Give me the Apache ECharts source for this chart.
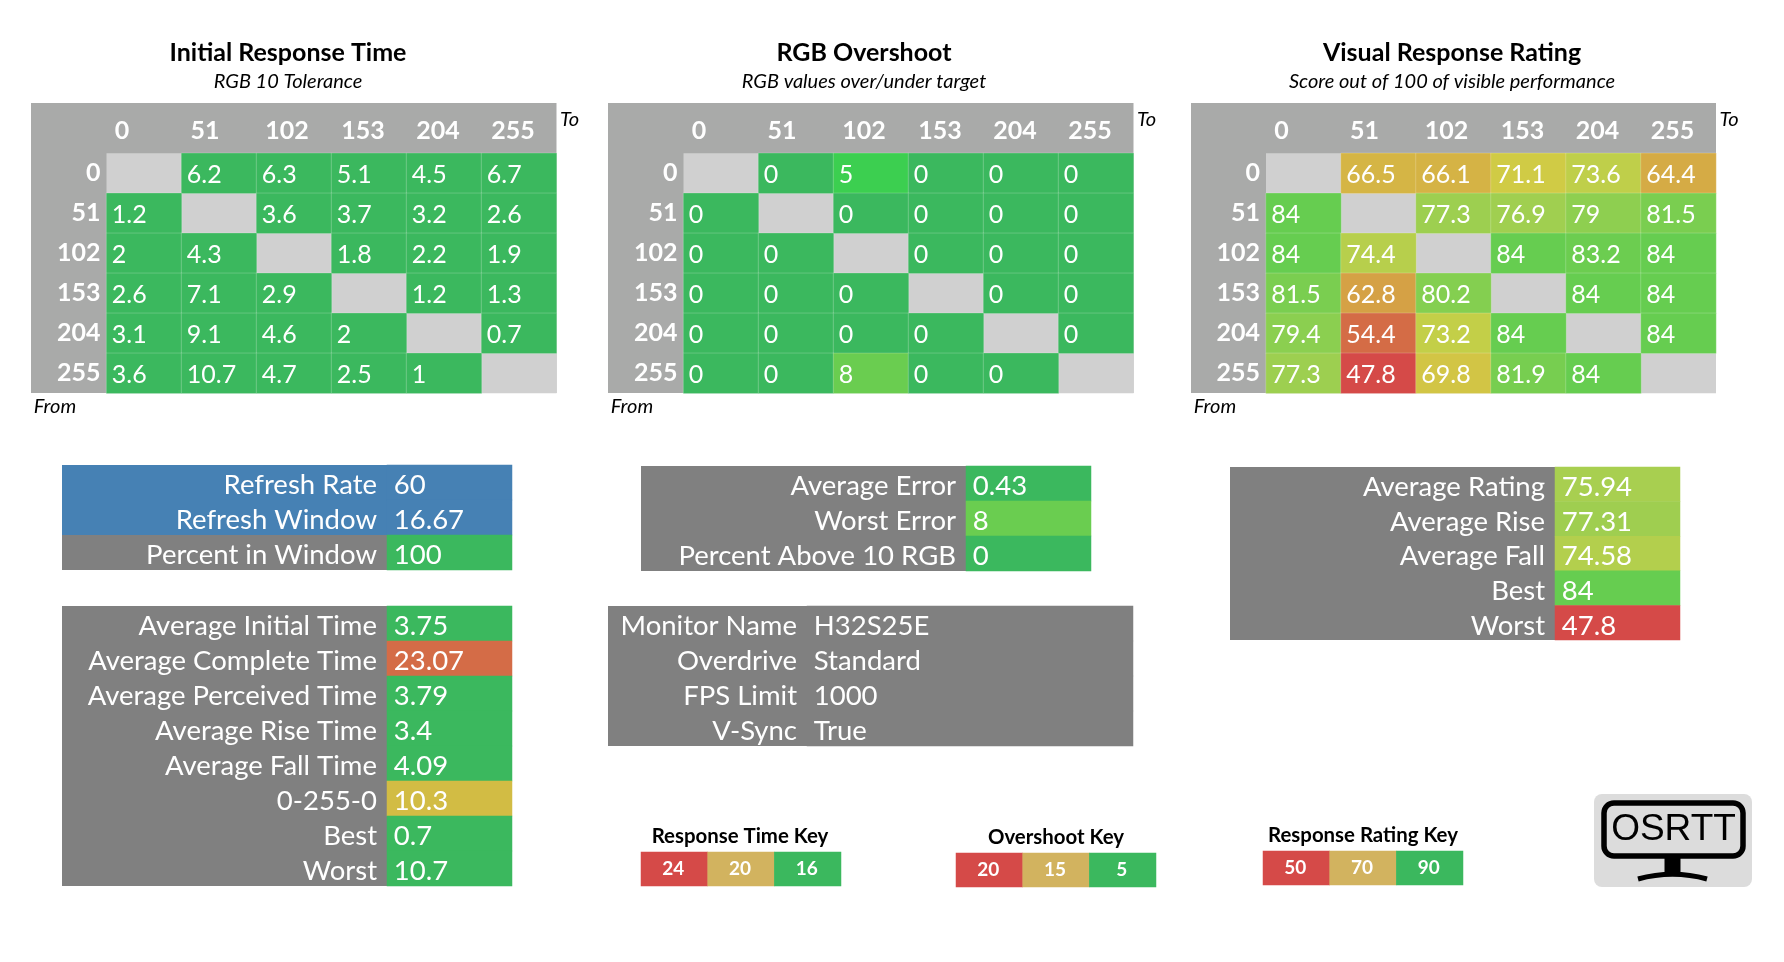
<!DOCTYPE html>
<html>
<head>
<meta charset="utf-8">
<style>
html, body { margin: 0; padding: 0; background: #fff; }
#main { width: 1784px; height: 962px; }
</style>
<script src="https://cdn.jsdelivr.net/npm/echarts@6/dist/echarts.min.js"></script>
</head>
<body>
<div id="main"></div>
<script>
var levels = ['0', '51', '102', '153', '204', '255'];

// null = the diagonal, no transition there
var initialTimes = [
    [null, 6.2, 6.3, 5.1, 4.5, 6.7],
    [1.2, null, 3.6, 3.7, 3.2, 2.6],
    [2, 4.3, null, 1.8, 2.2, 1.9],
    [2.6, 7.1, 2.9, null, 1.2, 1.3],
    [3.1, 9.1, 4.6, 2, null, 0.7],
    [3.6, 10.7, 4.7, 2.5, 1, null]
];
var overshoot = [
    [null, 0, 5, 0, 0, 0],
    [0, null, 0, 0, 0, 0],
    [0, 0, null, 0, 0, 0],
    [0, 0, 0, null, 0, 0],
    [0, 0, 0, 0, null, 0],
    [0, 0, 8, 0, 0, null]
];
var ratings = [
    [null, 66.5, 66.1, 71.1, 73.6, 64.4],
    [84, null, 77.3, 76.9, 79, 81.5],
    [84, 74.4, null, 84, 83.2, 84],
    [81.5, 62.8, 80.2, null, 84, 84],
    [79.4, 54.4, 73.2, 84, null, 84],
    [77.3, 47.8, 69.8, 81.9, 84, null]
];

var refreshNames = ['Refresh Rate', 'Refresh Window', 'Percent in Window'];
var refreshValues = ['60', '16.67', '100'];
var timeNames = ['Average Initial Time', 'Average Complete Time', 'Average Perceived Time', 'Average Rise Time', 'Average Fall Time', '0-255-0', 'Best', 'Worst'];
var timeValues = ['3.75', '23.07', '3.79', '3.4', '4.09', '10.3', '0.7', '10.7'];
var errorNames = ['Average Error', 'Worst Error', 'Percent Above 10 RGB'];
var errorValues = ['0.43', '8', '0'];
var monitorNames = ['Monitor Name', 'Overdrive', 'FPS Limit', 'V-Sync'];
var monitorValues = ['H32S25E', 'Standard', '1000', 'True'];
var ratingNames = ['Average Rating', 'Average Rise', 'Average Fall', 'Best', 'Worst'];
var ratingValues = ['75.94', '77.31', '74.58', '84', '47.8'];

var timeKey = ['24', '20', '16'];
var overshootKey = ['20', '15', '5'];
var ratingKey = ['50', '70', '90'];

var GREEN = '#3bb85e', RED = '#d54a48', SAND = '#d2b35f', GREY = '#808080', HEAD = '#a9aaa9', BLUE = '#4681b4';

var refreshColors = [BLUE, BLUE, GREEN];
var timeColors = [GREEN, '#d46c47', GREEN, GREEN, GREEN, '#d2bc44', GREEN, GREEN];
var errorColors = [GREEN, '#6acd50', GREEN];
var ratingColors = ['#a8cf50', '#9fce50', '#b3cf4d', '#66cd50', RED];
var keyColors = [RED, SAND, GREEN];

// header text sits left of the column centre in the original sheet
var headerPad = [44, 28, 14, 12, 12, 12];

var font = 'Lato';
var grids = [], xAxes = [], yAxes = [], series = [], titles = [], graphics = [], visualMaps = [];

function addAxes(box, xData, yData) {
    var n = grids.length;
    grids.push({ left: box.left, top: box.top, width: box.width, height: box.height, show: !!box.bg, backgroundColor: box.bg, borderWidth: 0, containLabel: false, z: 1 });
    xAxes.push({
        gridIndex: n, type: 'category', position: 'top', data: xData,
        axisLine: { show: false }, axisTick: { show: false }, splitLine: { show: false },
        axisLabel: box.xLabel || { show: false }
    });
    yAxes.push({
        gridIndex: n, type: 'category', inverse: true, data: yData,
        axisLine: { show: false }, axisTick: { show: false }, splitLine: { show: false },
        axisLabel: box.yLabel || { show: false }
    });
    return n;
}

function title(text, x, y, size, bold, italic) {
    titles.push({
        text: text, left: x, top: y, textAlign: 'center', textVerticalAlign: 'middle', padding: 0,
        textStyle: { fontFamily: font, fontSize: size, fontWeight: bold ? 'bold' : 'normal', fontStyle: italic ? 'italic' : 'normal', color: '#000' }
    });
}

function backing(x, y, w, h, color) {
    graphics.push({ type: 'rect', z: -1, shape: { x: x, y: y, width: w, height: h }, style: { fill: color } });
}

function matrix(values, left, labelWidth, cellW, map, heading, sub, hx) {
    var top = 153.3, cellH = 40;
    backing(left, 103, labelWidth + cellW * 6, 290, HEAD);
    var n = addAxes({
        left: left + labelWidth, top: top, width: cellW * 6, height: cellH * 6, bg: '#d0d0d0',
        xLabel: { color: '#fff', fontFamily: font, fontWeight: 'bold', fontSize: 25, margin: 10, interval: 0 },
        yLabel: { color: '#fff', fontFamily: font, fontWeight: 'bold', fontSize: 25, margin: 6, interval: 0 }
    }, levels.map(function (l, i) {
        return { value: l, textStyle: { padding: [0, headerPad[i], 0, 0] } };
    }), levels);
    var data = [];
    values.forEach(function (row, r) {
        row.forEach(function (v, c) {
            if (v !== null) data.push([c, r, v]);
        });
    });
    series.push({
        type: 'heatmap', xAxisIndex: n, yAxisIndex: n, data: data,
        itemStyle: { borderColor: 'rgba(255,255,255,0.2)', borderWidth: 1 },
        label: { show: true, position: 'insideLeft', distance: 6, offset: [0, 2], color: '#fff', fontFamily: font, fontSize: 25,
            formatter: function (p) { return p.value[2]; } },
        emphasis: { disabled: true }
    });
    map.seriesIndex = series.length - 1;
    map.show = false;
    visualMaps.push(map);
    title(heading, hx, 53, 25, true, false);
    title(sub, hx, 82, 20, false, true);
    title('To', left + labelWidth + cellW * 6 + 13, 120, 20, false, true);
    title('From', left + 24, 406.7, 20, false, true);
}

// grey label column plus one column of value cells
function table(names, values, colors, left, divider, right, top, rowH, labelGap, height) {
    var h = height || rowH * names.length;
    backing(left, top, divider - left, h, GREY);
    var n = addAxes({
        left: divider, top: top, width: right - divider, height: h,
        // a short line box hung from the row centre drops the text a few px
        yLabel: { color: '#fff', fontFamily: font, fontSize: 27.5, margin: labelGap, interval: 0, verticalAlign: 'top', lineHeight: 6 }
    }, ['v'], names);
    series.push({
        type: 'heatmap', xAxisIndex: n, yAxisIndex: n,
        data: values.map(function (v, i) {
            return { value: [0, i, 0], itemStyle: { color: colors[i] } };
        }),
        label: { show: true, position: 'insideLeft', distance: 7, offset: [0, 3], color: '#fff', fontFamily: font, fontSize: 27.5,
            formatter: function (p) { return values[p.dataIndex]; } },
        emphasis: { disabled: true }
    });
}

function keyRow(heading, labels, left, top, tx, ty) {
    var n = addAxes({ left: left, top: top, width: 200, height: 34 }, labels, ['k']);
    series.push({
        type: 'heatmap', xAxisIndex: n, yAxisIndex: n,
        data: labels.map(function (v, i) {
            return { value: [i, 0, 0], itemStyle: { color: keyColors[i] } };
        }),
        label: { show: true, offset: [-1, 0], color: '#fff', fontFamily: font, fontWeight: 'bold', fontSize: 19,
            formatter: function (p) { return labels[p.dataIndex]; } },
        emphasis: { disabled: true }
    });
    title(heading, tx, ty, 20.4, true, false);
}

matrix(initialTimes, 31, 75.5, 75,
    { type: 'continuous', min: 0, max: 24, inRange: { color: [GREEN, GREEN] } },
    'Initial Response Time', 'RGB 10 Tolerance', 288);
matrix(overshoot, 608, 75.5, 75,
    { type: 'piecewise', pieces: [{ value: 0, color: GREEN }, { value: 5, color: '#3ccf50' }, { value: 8, color: '#6acd50' }] },
    'RGB Overshoot', 'RGB values over/under target', 864);
matrix(ratings, 1191, 75, 75,
    { type: 'continuous', min: 47.8, max: 84, inRange: { color: [RED, '#d55c47', '#d47546', '#d48f45', '#d5a845', '#d5bc45', '#cfcf45', '#a8cf50', '#86cf50', '#66cd50'] } },
    'Visual Response Rating', 'Score out of 100 of visible performance', 1452);

table(refreshNames, refreshValues, refreshColors, 62, 387, 512, 465, 35, 10);
backing(62, 465, 325, 70, BLUE);
table(timeNames, timeValues, timeColors, 62, 387, 512, 606, 35, 10);
table(errorNames, errorValues, errorColors, 641, 966, 1091, 466, 35, 10);
backing(608, 606, 525, 140, GREY);
table(monitorNames, monitorValues, [GREY, GREY, GREY, GREY], 608, 807, 1133, 606, 35, 10);
table(ratingNames, ratingValues, ratingColors, 1230, 1555, 1680, 467, 35, 10, 173);

keyRow('Response Time Key', timeKey, 641, 852, 740, 836);
keyRow('Overshoot Key', overshootKey, 956, 853, 1056, 837);
keyRow('Response Rating Key', ratingKey, 1263, 851, 1363, 835);

// OSRTT logo
graphics.push(
    { type: 'rect', z: 5, shape: { x: 1594, y: 794, width: 158, height: 93, r: 8 }, style: { fill: '#dcdcdc' } },
    { type: 'rect', z: 6, shape: { x: 1604, y: 803, width: 139, height: 53, r: 10 }, style: { fill: 'none', stroke: '#000', lineWidth: 5.5 } },
    { type: 'text', z: 6, style: { x: 1673.5, y: 830, text: 'OSRTT', fill: '#000', font: '37px "Liberation Sans"', align: 'center', verticalAlign: 'middle' } },
    { type: 'rect', z: 6, shape: { x: 1664.5, y: 857, width: 16, height: 17 }, style: { fill: '#000' } },
    { type: 'bezierCurve', z: 6, shape: { x1: 1638, y1: 879, cpx1: 1660, cpy1: 873, cpx2: 1685, cpy2: 873, x2: 1707, y2: 879 }, style: { fill: 'none', stroke: '#000', lineWidth: 5 } }
);

var myChart = echarts.init(document.getElementById('main'), null, { renderer: 'canvas' });
myChart.setOption({
    animation: false,
    backgroundColor: '#fff',
    title: titles,
    grid: grids,
    xAxis: xAxes,
    yAxis: yAxes,
    visualMap: visualMaps,
    series: series,
    graphic: { elements: graphics }
});
</script>
</body>
</html>
